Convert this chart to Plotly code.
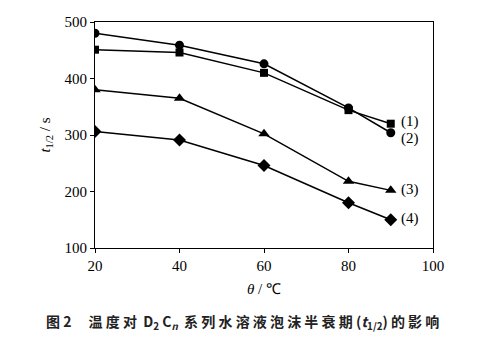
import plotly.graph_objects as go

temps = [20, 40, 60, 80, 90]
s1 = [451, 446, 410, 344, 320]
s2 = [480, 459, 426, 348, 304]
s3 = [380, 365, 302, 218, 202]
s4 = [306, 291, 246, 180, 150]
labels = ["(1)", "(2)", "(3)", "(4)"]
symbols = ["square", "circle", "triangle-up", "diamond"]
series = [s1, s2, s3, s4]
sizes = [8, 9, 10, 10]

SERIF = "Liberation Serif, Times New Roman, serif"

fig = go.Figure()
for ys, sym, sz in zip(series, symbols, sizes):
    fig.add_trace(go.Scatter(x=temps, y=ys, mode="lines+markers",
                             line=dict(color="black", width=1.5),
                             marker=dict(symbol=sym, size=sz, color="black"),
                             showlegend=False))

shifts = [2, -6, 1, 1]
for lab, ys, sh in zip(labels, series, shifts):
    fig.add_annotation(x=temps[-1], y=ys[-1], text=lab, showarrow=False,
                       xanchor="left", xshift=8, yshift=sh,
                       font=dict(family=SERIF, size=15, color="black"))

fig.add_annotation(xref="paper", yref="paper", x=0.435, y=-0.27,
                   text="<b>图 2　 温 度 对  D<sub>2</sub> C<sub><i>n</i></sub>  系 列 水 溶 液 泡 沫 半 衰 期 (<i>t</i><sub>1/2</sub>) 的 影 响</b>",
                   showarrow=False, xanchor="center", yanchor="top",
                   font=dict(family="Noto Sans CJK SC", size=14, color="#222"))

axis_common = dict(showline=True, linecolor="black", linewidth=1.2, mirror=True,
                   showgrid=False, zeroline=False, ticks="outside", ticklen=4,
                   tickcolor="black",
                   tickfont=dict(family=SERIF, size=15, color="black"))

fig.update_xaxes(range=[20, 100], dtick=20, **axis_common,
                 title=dict(text="<i>θ</i> / ℃", standoff=10,
                            font=dict(family=SERIF, size=15, color="black")))
fig.update_yaxes(range=[100, 500], dtick=100, **axis_common,
                 title=dict(text="<i>t</i><sub>1/2</sub> / s", standoff=10,
                            font=dict(family=SERIF, size=15, color="black")))

fig.update_layout(width=484, height=343, margin=dict(l=95, r=51, t=22, b=95),
                  paper_bgcolor="white", plot_bgcolor="white",
                  font=dict(family=SERIF, color="black"))
fig.write_html("out.html")
